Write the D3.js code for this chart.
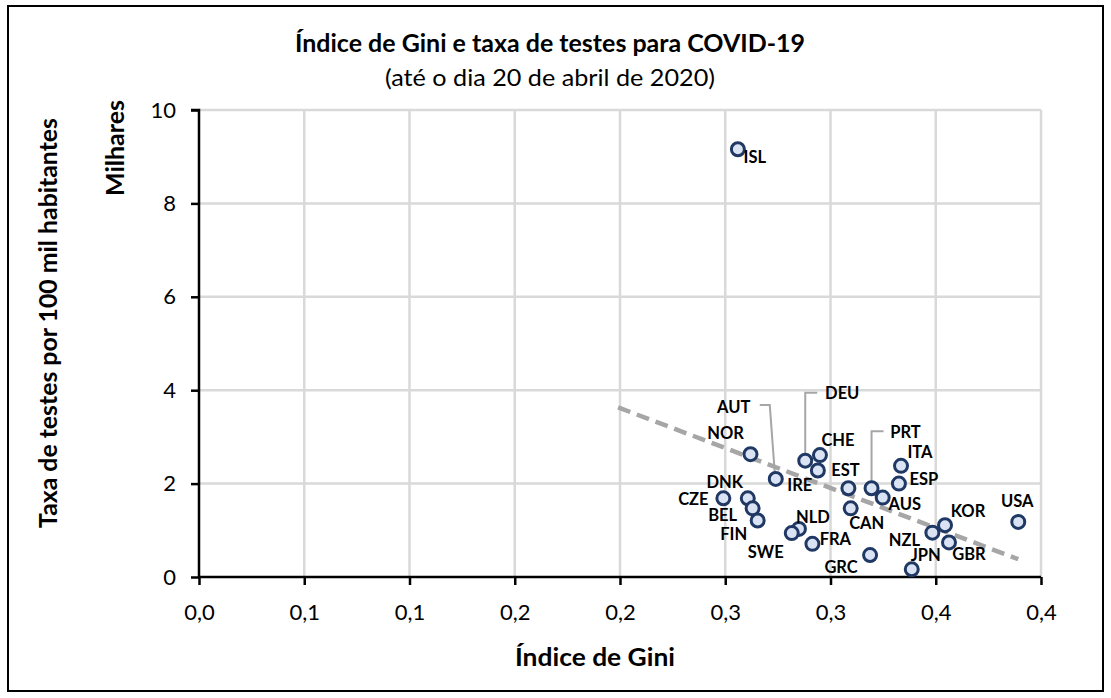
<html>
<head>
<meta charset="utf-8">
<script src="https://d3js.org/d3.v7.min.js"></script>
<style>
  body { margin: 0; background: #fff; }
  text { font-family: Lato, "Noto Sans", sans-serif; fill: #000; }
</style>
</head>
<body>
<svg id="chart" width="1111" height="698"></svg>

<script>
// countries and values (tests in thousands per 100k)
var countries = ["ISL","NOR","AUT","DEU","CHE","IRE","EST","PRT","ITA","ESP","AUS","CAN","KOR","NZL","GBR","JPN","GRC","USA","CZE","DNK","BEL","FIN","NLD","SWE","FRA"];
var gini  = [0.256,0.262,0.274,0.288,0.295,0.294,0.3085,0.3195,0.3335,0.3325,0.3248,0.3096,0.3544,0.3484,0.3563,0.3386,0.3188,0.3892,0.2491,0.2607,0.263,0.2654,0.285,0.2816,0.2914];
var tests = [9.16,2.63,2.10,2.49,2.61,2.28,1.90,1.90,2.38,2.00,1.70,1.47,1.11,0.95,0.74,0.165,0.47,1.18,1.685,1.685,1.47,1.21,1.03,0.94,0.71];

var xTickValues = [0,0.05,0.1,0.15,0.2,0.25,0.3,0.35,0.4];
var xTickLabels = ["0,0","0,1","0,1","0,2","0,2","0,3","0,3","0,4","0,4"];
var yTickValues = [0,2,4,6,8,10];

// where each label sits relative to its marker (label centre)
var labelPos = {
  ISL:[17,8], NOR:[-25,-21], AUT:[-42,-72], DEU:[37,-68], CHE:[18,-15], IRE:[-18,14],
  EST:[-3,-18], PRT:[34,-56], ITA:[19,-14], ESP:[25,-5], AUS:[22,6], CAN:[16,15],
  KOR:[23,-14], NZL:[-28,7], GBR:[20,12], JPN:[14,-14], GRC:[-29,12], USA:[-1,-21],
  CZE:[-30,1], DNK:[-23,-16], BEL:[-30,7], FIN:[-24,14], NLD:[14,-12], SWE:[-26,19], FRA:[23,-5]
};
// leader lines (relative to marker)
var leaders = {
  AUT: [[-16,-74],[-6,-74],[-1,-6]],
  DEU: [[12,-68],[0,-68],[0,-3]],
  PRT: [[12,-57],[0,-57],[0,-3]]
};

var svg = d3.select("#chart");

var x = d3.scaleLinear().domain([0, 0.4]).range([199, 1041]);
var y = d3.scaleLinear().domain([0, 10]).range([577, 110]);

// frame
svg.append("rect")
  .attr("x", 8).attr("y", 6).attr("width", 1095).attr("height", 685)
  .attr("fill", "none").attr("stroke", "#000").attr("stroke-width", 2);

// gridlines
svg.append("g").selectAll("line").data(xTickValues.slice(1)).enter().append("line")
  .attr("x1", function(d){ return x(d); }).attr("x2", function(d){ return x(d); })
  .attr("y1", y(0)).attr("y2", y(10))
  .attr("stroke", "#d9d9d9").attr("stroke-width", 2.5);
svg.append("g").selectAll("line").data(yTickValues.slice(1)).enter().append("line")
  .attr("x1", x(0)).attr("x2", x(0.4))
  .attr("y1", function(d){ return y(d); }).attr("y2", function(d){ return y(d); })
  .attr("stroke", "#d9d9d9").attr("stroke-width", 2.5);

// axes
var xAxis = svg.append("g")
  .attr("transform", "translate(0," + y(0) + ")")
  .call(d3.axisBottom(x).tickValues(xTickValues).tickSize(8).tickPadding(19)
    .tickFormat(function(d, i){ return xTickLabels[i]; }));
var yAxis = svg.append("g")
  .attr("transform", "translate(" + x(0) + ",0)")
  .call(d3.axisLeft(y).tickValues(yTickValues).tickSize(8).tickPadding(15)
    .tickFormat(d3.format("d")));

[xAxis, yAxis].forEach(function(a){
  a.select(".domain").attr("stroke", "#000").attr("stroke-width", 2.5)
    .attr("d", a === xAxis ? "M" + x(0) + ",0H" + x(0.4) : "M-8," + y(10) + "H0V" + y(0));
  a.selectAll(".tick line").attr("stroke", "#000").attr("stroke-width", 2.5);
  a.selectAll(".tick text").style("font-family", "Lato").style("font-size", "22px").attr("fill", "#000");
});
xAxis.selectAll(".tick text").attr("dy", "0.71em");

// trend line (least squares, backward forecast 0.05)
var mx = d3.mean(gini), my = d3.mean(tests);
var sxy = d3.sum(gini, function(g, i){ return (g - mx) * (tests[i] - my); });
var sxx = d3.sum(gini, function(g){ return (g - mx) * (g - mx); });
var slope = sxy / sxx, icpt = my - slope * mx;
var tx = [d3.min(gini) - 0.05, d3.max(gini)];
svg.append("line")
  .attr("x1", x(tx[0])).attr("y1", y(icpt + slope * tx[0]))
  .attr("x2", x(tx[1])).attr("y2", y(icpt + slope * tx[1]))
  .attr("stroke", "#a6a6a6").attr("stroke-width", 4.5)
  .attr("stroke-dasharray", "13,7");

var pts = countries.map(function(c, i){ return {c: c, g: gini[i], t: tests[i]}; });

// leader lines
svg.append("g").selectAll("polyline")
  .data(pts.filter(function(d){ return leaders[d.c]; })).enter().append("polyline")
  .attr("points", function(d){
    return leaders[d.c].map(function(p){ return (x(d.g) + p[0]) + "," + (y(d.t) + p[1]); }).join(" ");
  })
  .attr("fill", "none").attr("stroke", "#a6a6a6").attr("stroke-width", 2);

// markers
svg.append("g").selectAll("circle").data(pts).enter().append("circle")
  .attr("cx", function(d){ return x(d.g); })
  .attr("cy", function(d){ return y(d.t); })
  .attr("r", 6.5)
  .attr("fill", "#dae3f3").attr("stroke", "#1f3864").attr("stroke-width", 3);

// data labels
svg.append("g").selectAll("text").data(pts).enter().append("text")
  .attr("x", function(d){ return x(d.g) + labelPos[d.c][0]; })
  .attr("y", function(d){ return y(d.t) + labelPos[d.c][1] + 6; })
  .attr("text-anchor", "middle")
  .style("font-size", "16.5px").style("font-weight", "bold")
  .text(function(d){ return d.c; });

// titles, stretched to the widths seen in the picture
function fitText(sel, w) {
  sel.attr("textLength", w).attr("lengthAdjust", "spacingAndGlyphs");
}
fitText(svg.append("text").attr("x", 550).attr("y", 52).attr("text-anchor", "middle")
  .style("font-size", "25px").style("font-weight", "bold")
  .text("Índice de Gini e taxa de testes para COVID-19"), 510);
fitText(svg.append("text").attr("x", 550).attr("y", 86).attr("text-anchor", "middle")
  .style("font-size", "24px")
  .text("(até o dia 20 de abril de 2020)"), 330);
fitText(svg.append("text").attr("x", 595).attr("y", 666).attr("text-anchor", "middle")
  .style("font-size", "24px").style("font-weight", "bold")
  .text("Índice de Gini"), 160);
fitText(svg.append("text").attr("transform", "translate(57,323) rotate(-90)").attr("text-anchor", "middle")
  .style("font-size", "24px").style("font-weight", "bold")
  .text("Taxa de testes por 100 mil habitantes"), 410);
fitText(svg.append("text").attr("transform", "translate(124,148) rotate(-90)").attr("text-anchor", "middle")
  .style("font-size", "24px").style("font-weight", "bold")
  .text("Milhares"), 96);
</script>
</body>
</html>
